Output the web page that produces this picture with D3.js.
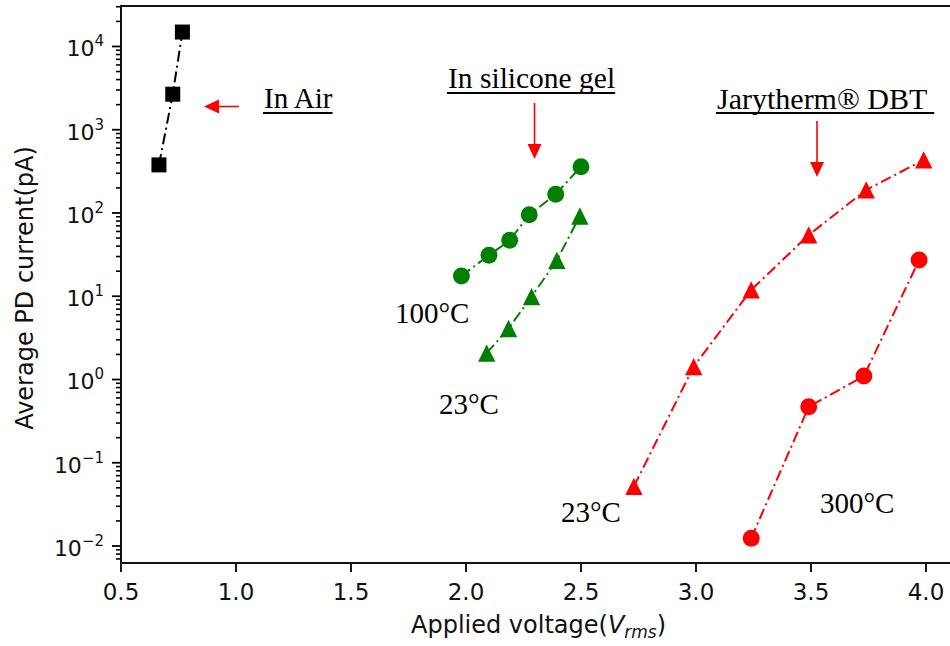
<!DOCTYPE html>
<html>
<head>
<meta charset="utf-8">
<script src="https://cdn.jsdelivr.net/npm/d3@7"></script>
<style>
  html, body { margin: 0; padding: 0; background: #fff; overflow: hidden; }
</style>
</head>
<body>
<div id="chart"></div>
<script>
// values
const airV = [0.665, 0.725, 0.767]
const airI = [378, 2670, 14900]
const gel100V = [1.98, 2.10, 2.19, 2.275, 2.39, 2.50]
const gel100I = [17.5, 31, 47, 95, 168, 360]
const gel23V = [2.09, 2.185, 2.285, 2.395, 2.495]
const gel23I = [2.07, 4.1, 9.9, 27, 92]
const dbt23V = [2.73, 2.99, 3.24, 3.49, 3.74, 3.99]
const dbt23I = [0.052, 1.43, 11.9, 54.5, 189, 434]
const dbt300V = [3.24, 3.49, 3.73, 3.97]
const dbt300I = [0.0124, 0.47, 1.10, 27.2]

const xTicks = [0.5, 1.0, 1.5, 2.0, 2.5, 3.0, 3.5, 4.0]
const yExps = [-2, -1, 0, 1, 2, 3, 4]

const series = [
  { v: airV, i: airI, color: '#000000', marker: 'square' },
  { v: gel100V, i: gel100I, color: '#008000', marker: 'circle' },
  { v: gel23V, i: gel23I, color: '#008000', marker: 'triangle' },
  { v: dbt23V, i: dbt23I, color: '#ff0000', marker: 'triangle' },
  { v: dbt300V, i: dbt300I, color: '#ff0000', marker: 'circle' }
]

let width = 950
let height = 646
let plotLeft = 121, plotTop = 6, plotBottom = 563

let svg = d3.select('#chart').append('svg')
  .attr('width', width)
  .attr('height', height)

let x = d3.scaleLinear().domain([0.5, 4.2]).range([plotLeft, plotLeft + 230 * 3.7])
let y = d3.scaleLog().domain([Math.pow(10, -2.204), Math.pow(10, 4.486)]).range([plotBottom, plotTop])

// minor ticks on the log axis
let minor = []
for (let e = -3; e <= 4; e++) {
  for (let m = 2; m <= 9; m++) {
    let val = m * Math.pow(10, e)
    if (val >= y.domain()[0] && val <= y.domain()[1]) minor.push(val)
  }
}

let axisG = svg.append('g')

axisG.selectAll('.minor')
  .data(minor)
  .enter()
  .append('line')
  .attr('x1', plotLeft - 5).attr('x2', plotLeft)
  .attr('y1', d => y(d)).attr('y2', d => y(d))
  .attr('stroke', '#000').attr('stroke-width', 1.6)

axisG.selectAll('.ymajor')
  .data(yExps)
  .enter()
  .append('line')
  .attr('x1', plotLeft - 9).attr('x2', plotLeft)
  .attr('y1', d => y(Math.pow(10, d))).attr('y2', d => y(Math.pow(10, d)))
  .attr('stroke', '#000').attr('stroke-width', 1.8)

let ylab = axisG.selectAll('.ylab')
  .data(yExps)
  .enter()
  .append('text')
  .attr('text-anchor', 'end')
  .attr('x', 104)
  .attr('y', d => y(Math.pow(10, d)) + 10)
  .attr('font-family', 'DejaVu Sans')
  .attr('font-size', 22)
  .attr('fill', '#111')
ylab.append('tspan').text('10')
ylab.append('tspan')
  .attr('dy', -10)
  .attr('font-size', 15)
  .text(d => String(d).replace('-', '\u2212'))

axisG.selectAll('.xmajor')
  .data(xTicks)
  .enter()
  .append('line')
  .attr('x1', d => x(d)).attr('x2', d => x(d))
  .attr('y1', plotBottom).attr('y2', plotBottom + 9)
  .attr('stroke', '#000').attr('stroke-width', 1.8)

axisG.selectAll('.xlab')
  .data(xTicks)
  .enter()
  .append('text')
  .attr('text-anchor', 'middle')
  .attr('x', d => x(d))
  .attr('y', 600)
  .attr('font-family', 'DejaVu Sans')
  .attr('font-size', 23)
  .attr('fill', '#111')
  .text(d => d.toFixed(1))

// spines
let plotRight = x.range()[1]
axisG.append('path')
  .attr('d', `M${plotLeft},${plotTop}H${plotRight}V${plotBottom}H${plotLeft}Z`)
  .attr('fill', 'none')
  .attr('stroke', '#111')
  .attr('stroke-width', 2)

// axis titles
let xt = svg.append('text')
  .attr('x', 411)
  .attr('y', 633)
  .attr('font-family', 'DejaVu Sans')
  .attr('font-size', 24)
  .attr('fill', '#111')
xt.append('tspan').text('Applied voltage(')
xt.append('tspan').attr('font-style', 'italic').text('V')
xt.append('tspan').attr('font-style', 'italic').attr('font-size', 17).attr('dy', 5).text('rms')
xt.append('tspan').attr('dy', -5).text(')')

svg.append('text')
  .attr('transform', 'translate(33, 288) rotate(-90)')
  .attr('text-anchor', 'middle')
  .attr('font-family', 'DejaVu Sans')
  .attr('font-size', 24)
  .attr('fill', '#111')
  .text('Average PD current(pA)')

// data lines and markers
let line = d3.line().x(d => x(d[0])).y(d => y(d[1]))

let tri = {
  draw(ctx, size) {
    let h = Math.sqrt(size) / 2
    ctx.moveTo(0, -h)
    ctx.lineTo(h, h)
    ctx.lineTo(-h, h)
    ctx.closePath()
  }
}
let symbolFor = {
  square: d3.symbol().type(d3.symbolSquare).size(225),
  circle: d3.symbol().type(d3.symbolCircle).size(225),
  triangle: d3.symbol().type(tri).size(300)
}

series.forEach(s => {
  let pts = s.v.map((v, k) => [v, s.i[k]])
  svg.append('path')
    .datum(pts)
    .attr('d', line)
    .attr('fill', 'none')
    .attr('stroke', s.color)
    .attr('stroke-width', 2)
    .attr('stroke-dasharray', '11,4,2,4')

  svg.selectAll(null)
    .data(pts)
    .enter()
    .append('path')
    .attr('d', symbolFor[s.marker])
    .attr('transform', d => `translate(${x(d[0])},${y(d[1])})`)
    .attr('fill', s.color)
})

// annotations
const notes = [
  { text: 'In Air', x: 264, y: 108, size: 29, underline: 113 },
  { text: 'In silicone gel', x: 448, y: 88, size: 29.5, underline: 93 },
  { text: 'Jarytherm\u00ae DBT', x: 717, y: 109, size: 30, underline: 113, extra: 7 },
  { text: '100\u00b0C', x: 395, y: 323, size: 29 },
  { text: '23\u00b0C', x: 439, y: 414, size: 29 },
  { text: '23\u00b0C', x: 561, y: 522, size: 29 },
  { text: '300\u00b0C', x: 820, y: 513, size: 29 }
]

notes.forEach(n => {
  let t = svg.append('text')
    .attr('x', n.x)
    .attr('y', n.y)
    .attr('font-family', 'Liberation Serif, Times New Roman, serif')
    .attr('font-size', n.size)
    .attr('fill', '#000')
    .text(n.text)
  if (n.underline) {
    let w = t.node().getComputedTextLength()
    svg.append('line')
      .attr('x1', n.x - 1).attr('x2', n.x + w + (n.extra || 0))
      .attr('y1', n.underline).attr('y2', n.underline)
      .attr('stroke', '#000').attr('stroke-width', 2)
  }
})

const arrows = [
  { x1: 239, y1: 106.5, x2: 204, y2: 106.5 },
  { x1: 534.5, y1: 103, x2: 534.5, y2: 159 },
  { x1: 817, y1: 121, x2: 817, y2: 177 }
]

arrows.forEach(a => {
  let ang = Math.atan2(a.y2 - a.y1, a.x2 - a.x1)
  let hl = 15, hw = 7
  let bx = a.x2 - hl * Math.cos(ang), by = a.y2 - hl * Math.sin(ang)
  svg.append('line')
    .attr('x1', a.x1).attr('y1', a.y1)
    .attr('x2', bx).attr('y2', by)
    .attr('stroke', '#ff0000').attr('stroke-width', 1.6)
  let px = -Math.sin(ang) * hw, py = Math.cos(ang) * hw
  svg.append('path')
    .attr('d', `M${a.x2},${a.y2}L${bx + px},${by + py}L${bx - px},${by - py}Z`)
    .attr('fill', '#ff0000')
})
</script>
</body>
</html>
